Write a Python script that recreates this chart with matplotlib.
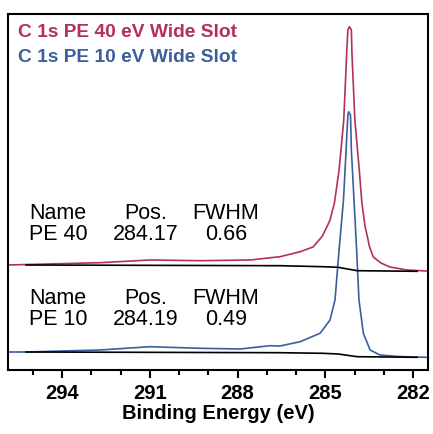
import numpy as np
import matplotlib.pyplot as plt
from matplotlib.ticker import MultipleLocator

plt.rcParams['font.family'] = ['Liberation Sans', 'DejaVu Sans']

# spectra (binding energy in eV, intensity in arb. units)
be_40 = [295.85, 294.5, 292.70, 291.0, 289.28, 287.57, 286.55, 285.86, 285.42,
         285.1, 284.95, 284.84, 284.69, 284.53, 284.37, 284.27, 284.23, 284.18,
         284.11, 284.09, 283.99, 283.84, 283.75, 283.64, 283.56, 283.49, 283.36,
         283.1, 282.79, 282.22, 281.53]
int_40 = [105, 106, 107.3, 110, 109.3, 110, 113.3, 118.3, 123,
          134, 143, 150, 167, 200, 250, 316.7, 340, 343.3,
          340, 316.7, 250, 200, 167, 143.3, 133, 123.3, 113,
          107, 103, 100, 99]

be_10 = [295.85, 295.23, 294.0, 292.70, 291.0, 289.28, 287.91, 286.89, 286.55,
         285.86, 285.18, 284.84, 284.67, 284.53, 284.38, 284.29, 284.23, 284.20,
         284.14, 284.11, 284.02, 283.93, 283.85, 283.70, 283.47, 283.13, 282.5,
         281.53]
int_10 = [18, 18, 19, 20, 23.3, 21.7, 21, 24.3, 24,
          28.3, 36.7, 50, 70, 120, 170, 220, 255, 258.3,
          255, 220, 170, 120, 70, 36.7, 20, 15, 13.5,
          12.7]

# Shirley-type backgrounds
bg_be = [295.23, 286.55, 285.08, 284.56, 284.2, 283.91, 281.86]
bg_40 = [105, 104.3, 103.3, 102.7, 100.8, 99.3, 98.7]
bg_10 = [18, 17.3, 16.7, 16, 14.5, 13.3, 12.7]

titles = ['C 1s PE 40 eV Wide Slot', 'C 1s PE 10 eV Wide Slot']
colors = ['#B3305C', '#3A5F9B']

table_head = ['Name', 'Pos.', 'FWHM']
table_rows = [['PE 40', '284.17', '0.66'], ['PE 10', '284.19', '0.49']]

fig = plt.figure(figsize=(4.33, 4.34), dpi=100)
ax = fig.add_axes([8/433, 1-370/434, 420/433, 356/434])

ax.plot(be_40, int_40, color=colors[0], lw=1.2)
ax.plot(be_10, int_10, color=colors[1], lw=1.2)
ax.plot(bg_be, bg_40, color='black', lw=1.2)
ax.plot(bg_be, bg_10, color='black', lw=1.2)

ax.set_xlim(295.85, 281.49)
ax.set_ylim(0, 356)
ax.xaxis.set_minor_locator(MultipleLocator(1))
ax.set_xticks([294, 291, 288, 285, 282])
ax.set_yticks([])
ax.tick_params(axis='x', which='major', direction='out', length=6, width=1.5,
               labelsize=14.5, pad=4)
ax.tick_params(axis='x', which='minor', direction='out', length=3.8, width=1.5)
for lab in ax.get_xticklabels():
    lab.set_fontweight('bold')
for s in ax.spines.values():
    s.set_linewidth(1.5)
ax.set_xlabel('Binding Energy (eV)', fontsize=14.5, fontweight='bold', labelpad=1)

# coloured titles
for t, c, yb in zip(titles, colors, [0.9346, 0.8643]):
    ax.text(0.025, yb, t, color=c, fontsize=13.8, fontweight='bold',
            transform=ax.transAxes, va='baseline', ha='left')

# fit tables
col_x = [0.050, 0.3286, 0.519]
col_ha = ['left', 'center', 'center']
for (y_head, y_row), row in zip([(0.425, 0.3643), (0.1862, 0.1256)], table_rows):
    for cx, ha, h, v in zip(col_x, col_ha, table_head, row):
        ax.text(cx, y_head, h, fontsize=15.5, transform=ax.transAxes,
                ha=ha, va='baseline')
        ax.text(cx, y_row, v, fontsize=15.5, transform=ax.transAxes,
                ha=ha, va='baseline')

fig.savefig('out.png', dpi=100)
